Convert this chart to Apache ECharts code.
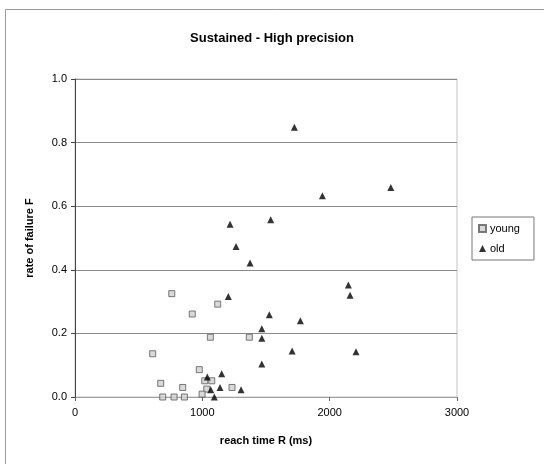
<!DOCTYPE html>
<html>
<head>
<meta charset="utf-8">
<script src="https://cdn.jsdelivr.net/npm/echarts@6/dist/echarts.min.js"></script>
<style>
  html, body { margin: 0; padding: 0; background: #fff; }
  #chart { width: 544px; height: 464px; }
</style>
</head>
<body>
<div id="chart"></div>
<script>
// reach time R (ms), rate of failure F
var young = [
  [610, 0.136], [760, 0.325], [921, 0.261], [1121, 0.292], [1063, 0.188],
  [1369, 0.188], [673, 0.043], [689, 0.0], [778, 0.0], [859, 0.0],
  [846, 0.03], [976, 0.086], [1019, 0.051], [1074, 0.051], [1035, 0.025],
  [998, 0.009], [1233, 0.03]
];
var old = [
  [1723, 0.848], [1943, 0.633], [2480, 0.659], [1218, 0.543], [1537, 0.557],
  [1265, 0.473], [1375, 0.421], [2147, 0.352], [2160, 0.32], [1204, 0.316],
  [1526, 0.259], [1770, 0.24], [1467, 0.215], [1467, 0.185], [1705, 0.145],
  [2207, 0.142], [1467, 0.104], [1152, 0.073], [1039, 0.063], [1139, 0.03],
  [1066, 0.023], [1304, 0.023], [1094, 0.0]
];
var seriesNames = ['young', 'old'];

var dom = document.getElementById('chart');
var myChart = echarts.init(dom);
var font = 'Liberation Sans, Arial, sans-serif';

var option = {
  backgroundColor: '#fff',
  animation: false,
  textStyle: { fontFamily: font },
  title: {
    text: 'Sustained - High precision',
    left: 'center',
    top: 27,
    textStyle: { fontSize: 13, fontWeight: 'bold', color: '#000', fontFamily: font }
  },
  graphic: [
    {
      type: 'rect',
      shape: { x: 5.5, y: 9.5, width: 600, height: 500 },
      style: { fill: 'none', stroke: '#9a9a9a', lineWidth: 1 },
      silent: true
    }
  ],
  legend: {
    orient: 'vertical',
    left: 472,
    top: 217,
    width: 64,
    padding: [6, 14, 6, 6],
    itemGap: 9,
    itemWidth: 7,
    itemHeight: 7,
    borderColor: '#777',
    borderWidth: 1,
    data: seriesNames,
    textStyle: { fontSize: 11, color: '#000', fontFamily: font, padding: [0, 0, 0, -1] }
  },
  grid: {
    left: 75,
    right: 87,
    top: 79,
    bottom: 67,
    show: true,
    borderColor: '#c4c4c4',
    borderWidth: 1
  },
  xAxis: {
    type: 'value',
    min: 0,
    max: 3000,
    interval: 1000,
    name: 'reach time R (ms)',
    nameLocation: 'middle',
    nameGap: 38,
    nameTextStyle: { fontSize: 11, fontWeight: 'bold', color: '#000', fontFamily: font },
    axisLine: { show: true, onZero: false, lineStyle: { color: '#a0a0a0', width: 1 } },
    axisTick: { show: true, length: 4, lineStyle: { color: '#666' } },
    axisLabel: {
      fontSize: 11, color: '#000', margin: 10, fontFamily: font,
      formatter: function (v) { return String(v); }
    },
    splitLine: { show: false }
  },
  yAxis: {
    type: 'value',
    min: 0,
    max: 1,
    interval: 0.2,
    name: 'rate of failure F',
    nameLocation: 'middle',
    nameGap: 40,
    nameTextStyle: { fontSize: 11, fontWeight: 'bold', color: '#000', fontFamily: font },
    axisLine: { show: true, lineStyle: { color: '#444', width: 1 } },
    axisTick: { show: true, length: 4, lineStyle: { color: '#444' } },
    axisLabel: {
      fontSize: 11, color: '#000', margin: 8, fontFamily: font,
      formatter: function (v) { return v.toFixed(1); }
    },
    splitLine: { show: true, lineStyle: { color: '#8a8a8a', width: 1 } }
  },
  series: [
    {
      name: seriesNames[0],
      type: 'scatter',
      symbol: 'rect',
      symbolSize: 6,
      itemStyle: { color: '#cfcfcf', borderColor: '#5a5a5a', borderWidth: 1 },
      data: young,
      z: 3
    },
    {
      name: seriesNames[1],
      type: 'scatter',
      symbol: 'triangle',
      symbolSize: 7,
      itemStyle: { color: '#000' },
      data: old,
      z: 4
    }
  ]
};

if (option && typeof option === 'object') {
  myChart.setOption(option, true);
}
</script>
</body>
</html>
